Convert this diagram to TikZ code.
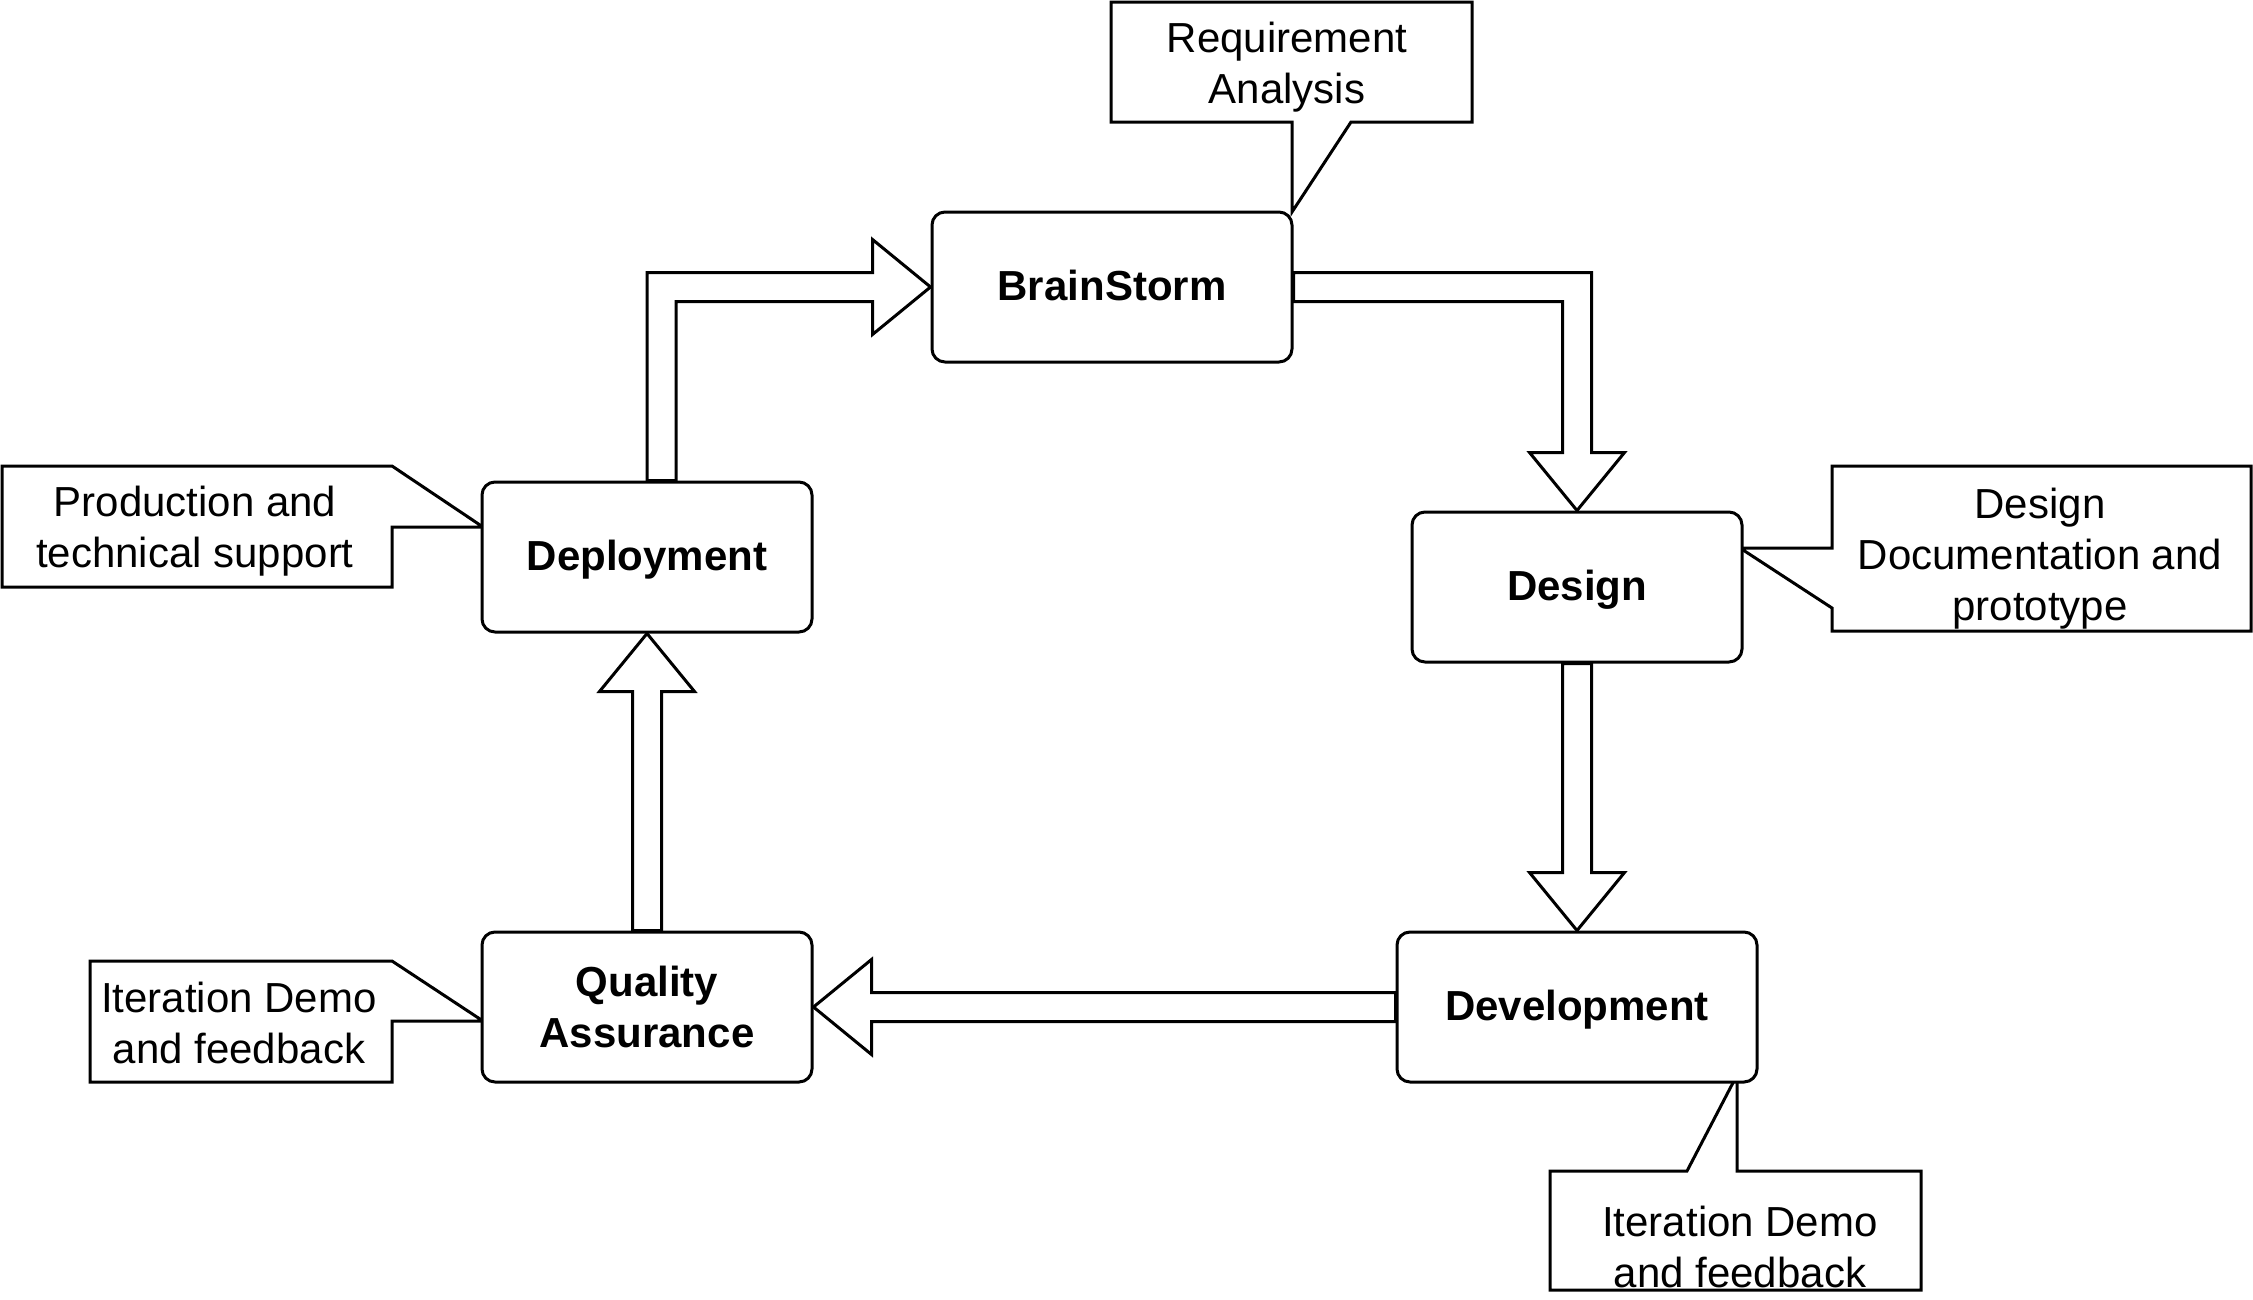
\documentclass[tikz,border=0pt]{standalone}
\usepackage{fontspec}
\setmainfont{Liberation Sans}
\usetikzlibrary{calc}
\def\shw{14.5pt}
\def\hhw{47.5pt}
\def\arrhl{58pt}
\begin{document}
\begin{tikzpicture}[x=1pt,y=-1pt,line width=3pt,
  box/.style={draw,fill=white,rounded corners=13pt,inner sep=0pt,minimum height=150pt,
    font=\fontsize{42}{51}\selectfont\bfseries,align=center},
  oneline/.style={text height=30pt,text depth=4pt},
  blk/.style={draw,fill=white,line join=miter},
  call/.style={draw,fill=white,line join=miter},
  ctext/.style={inner sep=0pt,anchor=north,align=center,font=\fontsize{42}{51}\selectfont}]
\useasboundingbox (0,0) rectangle (2253,1299);
\fill[white] (0,0) rectangle (2253,1299);

% callouts
\draw[call] (1111,2) -- (1472,2) -- (1472,122) -- (1351,122) -- (1292,212) -- (1292,122) -- (1111,122) -- cycle;
\draw[call] (1832,466) -- (2251,466) -- (2251,631) -- (1832,631) -- (1832,608) -- (1740,548) -- (1832,548) -- cycle;
\draw[call] (2,466) -- (392,466) -- (483,527) -- (392,527) -- (392,587) -- (2,587) -- cycle;
\draw[call] (90,961) -- (392,961) -- (483,1021) -- (392,1021) -- (392,1082) -- (90,1082) -- cycle;
\draw[call] (1550,1171) -- (1687,1171) -- (1737,1075) -- (1737,1171) -- (1921,1171) -- (1921,1290) -- (1550,1290) -- cycle;

\node[ctext] (rqt) at (1287,21) {Requirement\\Analysis};
\node[ctext] (dct) at (2040,487) {Design\\Documentation and\\prototype};
\node[ctext] (pct) at (195,485) {Production and\\technical support};
\node[ctext] (qct) at (239,981) {Iteration Demo\\and feedback};
\node[ctext] (vct) at (1740,1205) {Iteration Demo\\and feedback};

% process boxes
\node[box,oneline,minimum width=360pt] (bs) at (1112,287) {BrainStorm};
\node[box,oneline,minimum width=330pt] (des) at (1577,587) {Design};
\node[box,oneline,minimum width=360pt] (dev) at (1577,1007) {Development};
\node[box,minimum width=330pt] (qa) at (647,1007) {Quality\\Assurance};
\node[box,oneline,minimum width=330pt] (dep) at (647,557) {Deployment};

% block arrows
\draw[blk] let \p1=(dep.north), \p2=(bs.west) in
  (\x1,\y1) -- (\x1,\y2+\shw) -- (\x2-\arrhl,\y2+\shw) -- (\x2-\arrhl,\y2+\hhw) -- (\x2,\y2)
  -- (\x2-\arrhl,\y2-\hhw) -- (\x2-\arrhl,\y2-\shw) -- (\x1+2*\shw,\y2-\shw) -- (\x1+2*\shw,\y1) -- cycle;
\draw[blk] let \p1=(bs.east), \p2=(des.north) in
  (\x1,\y1+\shw) -- (\x2+\shw,\y1+\shw) -- (\x2+\shw,\y2+\arrhl) -- (\x2+\hhw,\y2+\arrhl) -- (\x2,\y2)
  -- (\x2-\hhw,\y2+\arrhl) -- (\x2-\shw,\y2+\arrhl) -- (\x2-\shw,\y1-\shw) -- (\x1,\y1-\shw) -- cycle;
\draw[blk] let \p1=(des.south), \p2=(dev.north) in
  (\x1-\shw,\y1) -- (\x1-\shw,\y2+\arrhl) -- (\x1-\hhw,\y2+\arrhl) -- (\x1,\y2)
  -- (\x1+\hhw,\y2+\arrhl) -- (\x1+\shw,\y2+\arrhl) -- (\x1+\shw,\y1) -- cycle;
\draw[blk] let \p1=(dev.west), \p2=(qa.east) in
  (\x1,\y1+\shw) -- (\x2+\arrhl,\y1+\shw) -- (\x2+\arrhl,\y1+\hhw) -- (\x2,\y1)
  -- (\x2+\arrhl,\y1-\hhw) -- (\x2+\arrhl,\y1-\shw) -- (\x1,\y1-\shw) -- cycle;
\draw[blk] let \p1=(qa.north), \p2=(dep.south) in
  (\x1-\shw,\y1) -- (\x1-\shw,\y2-\arrhl) -- (\x1-\hhw,\y2-\arrhl) -- (\x1,\y2)
  -- (\x1+\hhw,\y2-\arrhl) -- (\x1+\shw,\y2-\arrhl) -- (\x1+\shw,\y1) -- cycle;
\end{tikzpicture}
\end{document}
